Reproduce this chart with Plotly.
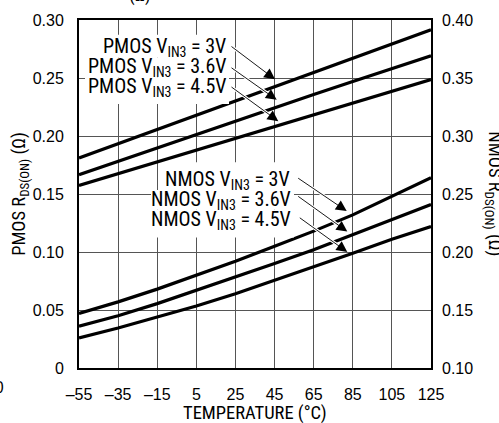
import plotly.graph_objects as go

# ---- data ----
temps = [-55, -35, -15, 5, 25, 45, 65, 85, 105, 125]
pmos_3v = [0.181, 0.1932, 0.2055, 0.2178, 0.2300, 0.2424, 0.2545, 0.2665, 0.2790, 0.2915]
pmos_36v = [0.1667, 0.1783, 0.1900, 0.2015, 0.2130, 0.2246, 0.2357, 0.2469, 0.2580, 0.2692]
pmos_45v = [0.1573, 0.1675, 0.1777, 0.1880, 0.1982, 0.2085, 0.2185, 0.2285, 0.2386, 0.2486]
nmos_3v = [0.147, 0.157, 0.168, 0.180, 0.192, 0.205, 0.218, 0.232, 0.248, 0.264]
nmos_36v = [0.136, 0.145, 0.1555, 0.167, 0.178, 0.190, 0.202, 0.215, 0.228, 0.241]
nmos_45v = [0.126, 0.1345, 0.144, 0.1535, 0.164, 0.1755, 0.187, 0.199, 0.211, 0.222]

x_ticks = [-55, -35, -15, 5, 25, 45, 65, 85, 105, 125]
x_ticktext = ["\u201355", "\u201335", "\u201315", "5", "25", "45", "65", "85", "105", "125"]
yl_ticks = [0, 0.05, 0.10, 0.15, 0.20, 0.25, 0.30]
yl_ticktext = ["0", "0.05", "0.10", "0.15", "0.20", "0.25", "0.30"]
yr_ticks = [0.10, 0.15, 0.20, 0.25, 0.30, 0.35, 0.40]
yr_ticktext = ["0.10", "0.15", "0.20", "0.25", "0.30", "0.35", "0.40"]

pmos_labels = ["PMOS V<sub>IN3</sub> = 3V", "PMOS V<sub>IN3</sub> = 3.6V", "PMOS V<sub>IN3</sub> = 4.5V"]
nmos_labels = ["NMOS V<sub>IN3</sub> = 3V", "NMOS V<sub>IN3</sub> = 3.6V", "NMOS V<sub>IN3</sub> = 4.5V"]

NARROW = "Roboto Condensed, DejaVu Sans Condensed, Liberation Sans Narrow, sans-serif"
REG = "Liberation Sans, Arial, Helvetica, sans-serif"

# plot-area geometry (pixels) used only to place annotations/shapes
L, T, W, H = 79, 16, 352, 352
XR = (-55, 125)
YR = (0.0, 0.30)


def px_x(px):
    return XR[0] + (px - L) / W * (XR[1] - XR[0])


def px_y(py):
    return YR[1] - (py - T) / H * (YR[1] - YR[0])


fig = go.Figure()
for ys in (pmos_3v, pmos_36v, pmos_45v):
    fig.add_trace(go.Scatter(x=temps, y=ys, mode="lines", line=dict(color="black", width=3.2),
                             showlegend=False, yaxis="y"))
for ys in (nmos_3v, nmos_36v, nmos_45v):
    fig.add_trace(go.Scatter(x=temps, y=ys, mode="lines", line=dict(color="black", width=3.2),
                             showlegend=False, yaxis="y2"))

annotations = []
shapes = []

# labels: (right edge px, left edge px, centre px, box top px, box bottom px)
pm_boxes = [(227, 100, 43.5, 31, 53.6), (227, 87, 63.8, 53.6, 74), (227, 87, 84, 74, 101)]
nm_boxes = [(291, 168, 178, 160, 188), (292, 153, 198.5, 188, 208), (292, 153, 218.5, 208, 236)]

for (r, l, c, b0, b1) in pm_boxes + nm_boxes:
    shapes.append(dict(type="rect", xref="x", yref="y", x0=px_x(l - 2), x1=px_x(r + 2),
                       y0=px_y(b1), y1=px_y(b0), fillcolor="white", line=dict(width=0), layer="above"))

# arrows: (tail px x, tail px y, tip px x, tip px y)
arrows_px = [(230, 41.7, 275, 76), (230, 63.3, 276.7, 96.7), (230, 82.7, 278.3, 118.3),
             (296.7, 175, 346.7, 209.3), (296.7, 193.3, 347.3, 230), (298.3, 215, 347.3, 250.7)]

for (tx, ty, hx, hy) in arrows_px:
    annotations.append(dict(x=px_x(hx), y=px_y(hy), ax=px_x(tx), ay=px_y(ty), xref="x", yref="y",
                            axref="x", ayref="y", text="", showarrow=True, arrowhead=0, arrowwidth=3,
                            arrowcolor="white", standoff=6))
for (tx, ty, hx, hy) in arrows_px:
    annotations.append(dict(x=px_x(hx), y=px_y(hy), ax=px_x(tx), ay=px_y(ty), xref="x", yref="y",
                            axref="x", ayref="y", text="", showarrow=True, arrowhead=2, arrowsize=2.4,
                            arrowwidth=0.9, arrowcolor="black"))

for lab, (r, l, c, b0, b1) in zip(pmos_labels + nmos_labels, pm_boxes + nm_boxes):
    annotations.append(dict(x=px_x(r), y=px_y(c), xref="x", yref="y", text=lab, showarrow=False,
                            xanchor="right", yanchor="middle", borderpad=0,
                            font=dict(family=NARROW, size=20, color="black")))

# axis titles
annotations.append(dict(x=-0.168, y=0.5, xref="paper", yref="paper", text="PMOS R<sub>DS(ON)</sub> (\u03a9)",
                        textangle=-90, showarrow=False, xanchor="center", yanchor="middle",
                        font=dict(family=NARROW, size=18.5, color="black")))
annotations.append(dict(x=1.178, y=0.5, xref="paper", yref="paper", text="NMOS R<sub>DS(ON)</sub> (\u03a9)",
                        textangle=90, showarrow=False, xanchor="center", yanchor="middle",
                        font=dict(family=NARROW, size=18.5, color="black")))
annotations.append(dict(x=0.5, y=-0.128, xref="paper", yref="paper", text="TEMPERATURE (\u00b0C)",
                        showarrow=False, xanchor="center", yanchor="middle",
                        font=dict(family=NARROW, size=18.5, color="black")))
# clipped fragments from the page around the chart
annotations.append(dict(x=0.173, y=1, xref="paper", yref="paper", text="(\u03a9)", yshift=12,
                        showarrow=False, xanchor="center", yanchor="bottom",
                        font=dict(family=NARROW, size=18, color="black")))
annotations.append(dict(x=-0.2074, y=-0.057, xref="paper", yref="paper", text="100",
                        showarrow=False, xanchor="right", yanchor="middle",
                        font=dict(family=REG, size=16, color="black")))

fig.update_layout(
    width=499, height=423, autosize=False,
    margin=dict(l=L, r=499 - L - W, t=T, b=423 - T - H, pad=0),
    paper_bgcolor="white", plot_bgcolor="white",
    showlegend=False,
    font=dict(family=REG, size=16, color="black"),
    xaxis=dict(range=list(XR), tickmode="array", tickvals=x_ticks, ticktext=x_ticktext,
               showgrid=True, gridcolor="#555", gridwidth=1, zeroline=False,
               showline=True, linecolor="black", linewidth=2, mirror=True,
               ticks="", ticklabelstandoff=11, tickfont=dict(family=REG, size=16)),
    yaxis=dict(range=list(YR), tickmode="array", tickvals=yl_ticks, ticktext=yl_ticktext,
               showgrid=True, gridcolor="#555", gridwidth=1, zeroline=False,
               showline=True, linecolor="black", linewidth=2, mirror=True,
               ticks="", ticklabelstandoff=10, tickfont=dict(family=REG, size=16)),
    yaxis2=dict(range=[0.10, 0.40], tickmode="array", tickvals=yr_ticks, ticktext=yr_ticktext,
                overlaying="y", side="right", showgrid=False, zeroline=False,
                showline=False, ticks="", ticklabelstandoff=10, tickfont=dict(family=REG, size=16)),
    annotations=annotations,
    shapes=shapes,
)

fig.write_html("out.html", config={"displayModeBar": False},
               post_script="document.body.style.margin='0';document.body.style.padding='0';")
